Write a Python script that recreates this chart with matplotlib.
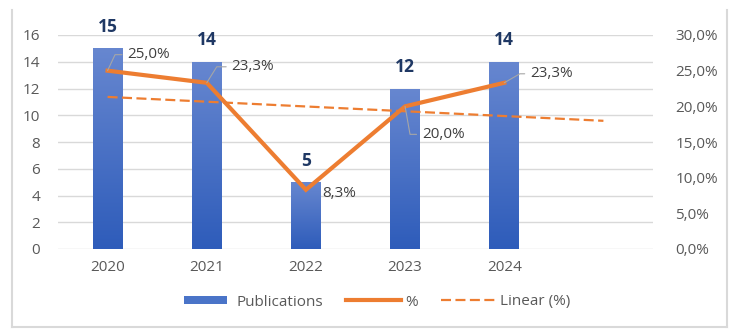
import numpy as np
import matplotlib
matplotlib.use("Agg")
import matplotlib.pyplot as plt
from matplotlib.lines import Line2D
from matplotlib.patches import Patch, Rectangle
from matplotlib.ticker import FuncFormatter
from matplotlib.legend_handler import HandlerPatch
from matplotlib.colors import LinearSegmentedColormap

plt.rcParams['font.family'] = ['Open Sans', 'DejaVu Sans']

years = ['2020', '2021', '2022', '2023', '2024']
publications = [15, 14, 5, 12, 14]
percent = [25.0, 23.3, 8.3, 20.0, 23.3]
pct_labels = ['25,0%', '23,3%', '8,3%', '20,0%', '23,3%']
# label offsets in pixels (dx, dy up) and leader angle
label_offsets = [(20, 16, 65), (25, 16, 58), (16, -4, None), (17, -28, 100), (26, 9, 30)]

W, H = 737, 335
fig = plt.figure(figsize=(W / 100, H / 100), dpi=100)
ax = fig.add_axes([58 / W, 1 - 249 / H, (653 - 58) / W, (249 - 35) / H])
ax2 = ax.twinx()

tick_color = '#595959'
grid_color = '#d9d9d9'
FS = 11
x = np.arange(len(years))

# Bars with gradient
bars = ax.bar(x, publications, width=0.3, color='none', edgecolor='none', zorder=2)
grad = np.linspace(0, 1, 256).reshape(-1, 1)
cmap = LinearSegmentedColormap.from_list('g', ['#2e5cba', '#6787d0'])
for b in bars:
    x0, y0 = b.get_x(), b.get_y()
    im = ax.imshow(grad, extent=[x0, x0 + b.get_width(), y0, y0 + b.get_height()],
                   origin='lower', aspect='auto', cmap=cmap, zorder=2)
    im.set_clip_path(b)

for xi, v in zip(x, publications):
    ax.annotate(str(v), (xi, v), xytext=(0, 9), textcoords='offset points',
                ha='center', va='bottom', fontsize=12.5, fontweight='bold', color='#1f3864')

ax.set_xlim(-0.5, 5.5)
ax.set_ylim(0, 16)
ax.set_yticks(range(0, 17, 2))
ax.set_xticks(x)
ax.set_xticklabels(years)
ax.yaxis.grid(True, color=grid_color, lw=1)
ax.set_axisbelow(True)
ax.tick_params(length=0, colors=tick_color, labelsize=FS)
ax.tick_params(axis='x', pad=8)
ax.tick_params(axis='y', pad=13)
for s in ax.spines.values():
    s.set_visible(False)

# Percent line
ax2.plot(x, percent, color='#ed7d31', lw=3, solid_joinstyle='miter', zorder=3)
# Linear trend (forecast forward 1 period)
coef = np.polyfit(x, percent, 1)
xt = np.array([0, len(years)])
DASH = (0, (4.5, 2))
ax2.plot(xt, np.polyval(coef, xt), color='#ed7d31', lw=1.6, ls=DASH, zorder=3)
ax2.set_ylim(0, 30)
ax2.set_yticks(range(0, 31, 5))
ax2.yaxis.set_major_formatter(FuncFormatter(lambda v, p: f"{v:.1f}%".replace('.', ',')))
ax2.tick_params(length=0, colors=tick_color, labelsize=FS, pad=16)
for s in ax2.spines.values():
    s.set_visible(False)
ax2.set_xlim(-0.5, 5.5)

for xi, v, lab, (dx, dy, ang) in zip(x, percent, pct_labels, label_offsets):
    kw = {}
    if ang is not None:
        kw['arrowprops'] = dict(arrowstyle='-', color='#a6a6a6', lw=0.8, shrinkA=2, shrinkB=0,
                                relpos=(0, 0.5),
                                connectionstyle=f"angle,angleA=0,angleB={ang},rad=0")
    ax2.annotate(lab, (xi, v), xytext=(dx * 0.72, dy * 0.72), textcoords='offset points',
                 ha='left', va='center', fontsize=FS, color='#404040', zorder=5, **kw)


# Legend
def short_patch(legend, orig_handle, xdescent, ydescent, width, height, fontsize):
    pw = width - 4.5
    ph = 6.0
    return Rectangle((-xdescent + 4.5, -ydescent + (height - ph) / 2), pw - 4.5, ph)


handles = [Patch(facecolor='#4a74c8', edgecolor='none'),
           Line2D([], [], color='#ed7d31', lw=3),
           Line2D([], [], color='#ed7d31', lw=1.6, ls=DASH)]
fig.legend(handles, ['Publications', '%', 'Linear (%)'], loc='center',
           bbox_to_anchor=(374 / W, 1 - 302 / H), ncol=3, frameon=False,
           fontsize=FS, labelcolor=tick_color, handlelength=3.6,
           handletextpad=0.25, columnspacing=1.5,
           handler_map={Patch: HandlerPatch(patch_func=short_patch)})

# outer border
for xs, ys in [([12, 12], [10, 327]), ([12, 727], [327, 327]), ([727, 727], [10, 327])]:
    fig.add_artist(Line2D([v / W for v in xs], [1 - v / H for v in ys], color='#d9d9d9', lw=1.5,
                          transform=fig.transFigure))

fig.savefig('out.png', dpi=100)
